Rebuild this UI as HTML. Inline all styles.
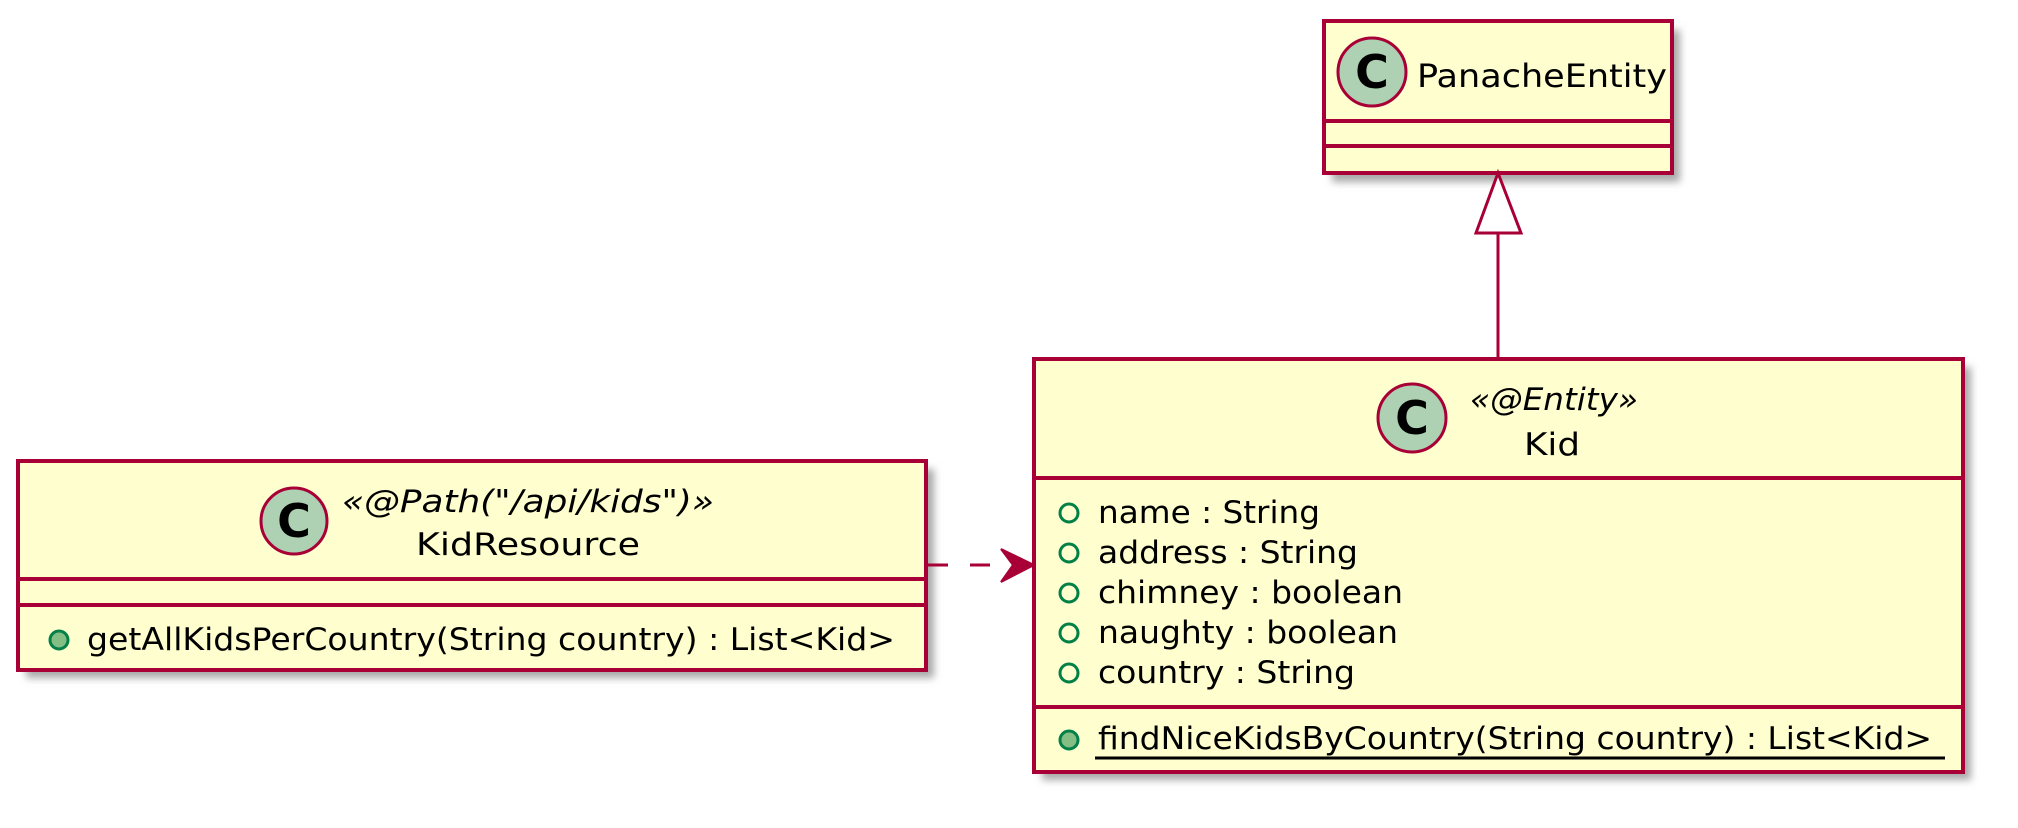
<!DOCTYPE html>
<html><head><meta charset="utf-8"><style>
html,body{margin:0;padding:0;background:#fff;width:2018px;height:828px;overflow:hidden}
text{font-family:"DejaVu Sans","Liberation Sans",sans-serif;fill:#000}
</style></head><body>
<svg width="2018" height="828" viewBox="0 0 2018 828" xmlns="http://www.w3.org/2000/svg">
<defs>
<filter id="sh" x="-5%" y="-5%" width="115%" height="125%">
<feGaussianBlur stdDeviation="4"/>
</filter>
</defs>
<g fill="#a8a8a8" filter="url(#sh)">
<rect x="1332" y="30" width="348" height="152"/>
<rect x="1042" y="367" width="929" height="413"/>
<rect x="26" y="469" width="908" height="209"/>
</g>
<g stroke="#A80036" stroke-width="4" fill="#FEFECE">
<rect x="1324" y="21" width="348" height="152"/>
<line x1="1324" y1="121" x2="1672" y2="121"/>
<line x1="1324" y1="146" x2="1672" y2="146"/>
<rect x="1034" y="359" width="929" height="413"/>
<line x1="1034" y1="478" x2="1963" y2="478"/>
<line x1="1034" y1="707" x2="1963" y2="707"/>
<rect x="18" y="461" width="908" height="209"/>
<line x1="18" y1="579" x2="926" y2="579"/>
<line x1="18" y1="605" x2="926" y2="605"/>
</g>
<g fill="#ADD1B2" stroke="#A80036" stroke-width="3">
<circle cx="1372" cy="72" r="34"/>
<circle cx="1412" cy="418" r="34"/>
<circle cx="294" cy="521" r="33"/>
</g>
<g font-weight="bold" font-size="46" text-anchor="middle">
<text x="1372" y="88">C</text>
<text x="1412" y="434">C</text>
<text x="294" y="537">C</text>
</g>
<text x="1417" y="87" font-size="32" textLength="250" lengthAdjust="spacingAndGlyphs">PanacheEntity</text>
<text x="1470" y="410" font-size="31" font-style="italic" textLength="168" lengthAdjust="spacingAndGlyphs">«@Entity»</text>
<text x="1524" y="455" font-size="31" textLength="56" lengthAdjust="spacingAndGlyphs">Kid</text>
<g fill="none" stroke="#038048" stroke-width="3">
<circle cx="1069" cy="513" r="9"/>
<circle cx="1069" cy="553" r="9"/>
<circle cx="1069" cy="593" r="9"/>
<circle cx="1069" cy="633" r="9"/>
<circle cx="1069" cy="673" r="9"/>
</g>
<g font-size="31">
<text x="1098" y="523" textLength="222" lengthAdjust="spacingAndGlyphs">name : String</text>
<text x="1098" y="563" textLength="260" lengthAdjust="spacingAndGlyphs">address : String</text>
<text x="1098" y="603" textLength="305" lengthAdjust="spacingAndGlyphs">chimney : boolean</text>
<text x="1098" y="643" textLength="300" lengthAdjust="spacingAndGlyphs">naughty : boolean</text>
<text x="1098" y="683" textLength="257" lengthAdjust="spacingAndGlyphs">country : String</text>
<text x="1098" y="749" textLength="834" lengthAdjust="spacingAndGlyphs">findNiceKidsByCountry(String country) : List&lt;Kid&gt;</text>
</g>
<line x1="1095" y1="758" x2="1945" y2="758" stroke="#000" stroke-width="3"/>
<circle cx="1069" cy="740" r="9" fill="#84BE84" stroke="#038048" stroke-width="3"/>
<text x="342" y="512" font-size="31" font-style="italic" textLength="372" lengthAdjust="spacingAndGlyphs">«@Path("/api/kids")»</text>
<text x="416" y="555" font-size="31" textLength="224" lengthAdjust="spacingAndGlyphs">KidResource</text>
<circle cx="59" cy="640" r="9" fill="#84BE84" stroke="#038048" stroke-width="3"/>
<text x="87" y="650" font-size="31" textLength="808" lengthAdjust="spacingAndGlyphs">getAllKidsPerCountry(String country) : List&lt;Kid&gt;</text>
<line x1="1498" y1="233" x2="1498" y2="359" stroke="#A80036" stroke-width="3"/>
<polygon points="1498,173 1476,233 1521,233" fill="#fff" stroke="#A80036" stroke-width="3"/>
<line x1="928" y1="565" x2="1014" y2="565" stroke="#A80036" stroke-width="3" stroke-dasharray="20,22"/>
<polygon points="1034,565 1001,549 1013,565 1001,582" fill="#A80036" stroke="#A80036" stroke-width="2"/>
</svg>
</body></html>
